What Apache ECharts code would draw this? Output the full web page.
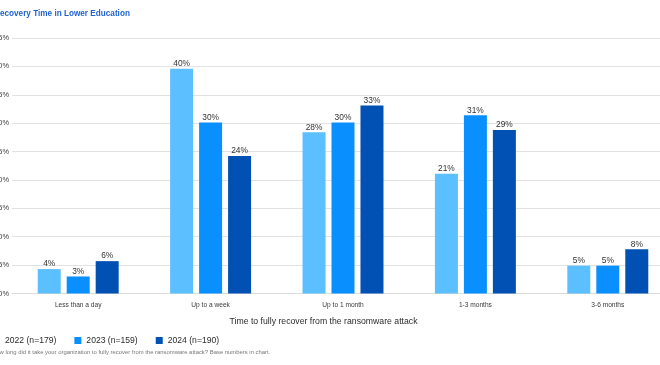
<!DOCTYPE html>
<html>
<head>
<meta charset="utf-8">
<script src="https://cdn.jsdelivr.net/npm/echarts@6/dist/echarts.min.js"></script>
<style>
html,body{margin:0;padding:0;background:#fff;overflow:hidden;width:660px;height:365px;}
#wrap{position:absolute;left:-20px;top:0;width:720px;height:365px;}
</style>
</head>
<body>
<div id="wrap"></div>
<script>
const categories = ['Less than a day', 'Up to a week', 'Up to 1 month', '1-3 months', '3-6 months'];
const seriesNames = ['2022 (n=179)', '2023 (n=159)', '2024 (n=190)'];
const values2022 = [4.3, 39.6, 28.4, 21.1, 4.9];
const values2023 = [3.0, 30.1, 30.1, 31.4, 4.9];
const values2024 = [5.7, 24.2, 33.1, 28.8, 7.8];
const yTicks = { min: 0, max: 45, interval: 5 };
const titleText = 'Recovery Time in Lower Education';
const axisTitle = 'Time to fully recover from the ransomware attack';
const footnote = 'How long did it take your organization to fully recover from the ransomware attack? Base numbers in chart.';

const FONT = 'Liberation Sans, Arial, sans-serif';
const colors = ['#5cbfff', '#0a8fff', '#0051b3'];

const chart = echarts.init(document.getElementById('wrap'), null, { renderer: 'canvas' });

function barSeries(name, data, color) {
  return {
    name: name,
    type: 'bar',
    data: data,
    barWidth: 23,
    barGap: '26%',
    itemStyle: { color: color },
    label: {
      show: true,
      position: 'top',
      distance: 1,
      fontFamily: FONT,
      fontSize: 8.4,
      color: '#333',
      formatter: p => Math.round(p.value) + '%'
    }
  };
}

chart.setOption({
  animation: false,
  textStyle: { fontFamily: FONT },
  grid: { left: 32, right: 26, top: 38, bottom: 71.5, containLabel: false },
  legend: {
    data: seriesNames,
    left: 8,
    top: 331,
    itemWidth: 7,
    itemHeight: 7,
    itemGap: 18,
    icon: 'rect',
    textStyle: { fontFamily: FONT, fontSize: 8.6, color: '#2a2a2a', padding: [0, 0, 0, 0] },
    selectedMode: false
  },
  xAxis: {
    type: 'category',
    data: categories,
    axisLine: { show: true, lineStyle: { color: '#dcdcdc', width: 1 } },
    axisTick: { show: false },
    axisLabel: { fontFamily: FONT, fontSize: 6.6, color: '#3a3a3a', margin: 8 }
  },
  yAxis: {
    type: 'value',
    min: yTicks.min,
    max: yTicks.max,
    interval: yTicks.interval,
    axisLine: { show: false },
    axisTick: { show: false },
    splitLine: { lineStyle: { color: '#e2e2e2', width: 1 } },
    axisLabel: { fontFamily: FONT, fontSize: 7.4, color: '#3a3a3a', margin: 3, formatter: '{value}%' }
  },
  graphic: [
    { type: 'text', left: 14, top: 10, style: { text: titleText, font: 'bold 8.2px ' + FONT, fill: '#1f62cf' } },
    { type: 'text', x: 343.5, y: 322, style: { text: axisTitle, font: '8.7px ' + FONT, fill: '#2a2a2a', textAlign: 'center', textVerticalAlign: 'middle' } },
    { type: 'text', x: 12, y: 352.7, style: { text: footnote, font: '5.9px ' + FONT, fill: '#777', textAlign: 'left', textVerticalAlign: 'middle' } }
  ],
  series: [
    barSeries(seriesNames[0], values2022, colors[0]),
    barSeries(seriesNames[1], values2023, colors[1]),
    barSeries(seriesNames[2], values2024, colors[2])
  ]
});
</script>
</body>
</html>
